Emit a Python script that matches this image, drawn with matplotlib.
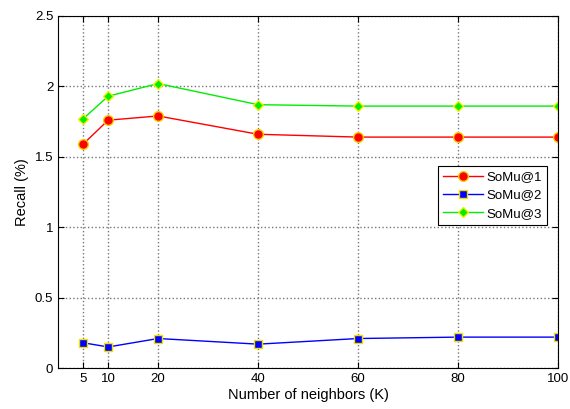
import matplotlib
matplotlib.use("Agg")
import matplotlib.pyplot as plt

plt.rcParams['font.family'] = ['Liberation Sans', 'DejaVu Sans']

k = [5, 10, 20, 40, 60, 80, 100]
somu1 = [1.59, 1.76, 1.79, 1.66, 1.64, 1.64, 1.64]
somu2 = [0.18, 0.15, 0.21, 0.17, 0.21, 0.22, 0.22]
somu3 = [1.77, 1.93, 2.02, 1.87, 1.86, 1.86, 1.86]
yticks = [0, 0.5, 1, 1.5, 2, 2.5]
ytick_labels = ['0', '0.5', '1', '1.5', '2', '2.5']

fig = plt.figure(figsize=(5.7, 4.09), dpi=100)
ax = fig.add_axes([0.102, 0.100, 0.877, 0.861])

ax.plot(k, somu1, '-o', color='red', markerfacecolor='red', markeredgecolor='#f0d000',
        markersize=7, linewidth=1, label='SoMu@1')
ax.plot(k, somu2, '-s', color='blue', markerfacecolor='blue', markeredgecolor='#f0e000',
        markersize=6, linewidth=1, label='SoMu@2')
ax.plot(k, somu3, '-D', color='#00ee00', markerfacecolor='#00ee00', markeredgecolor='#f0f000',
        markersize=5.5, linewidth=1, label='SoMu@3')

ax.set_xlim(0, 100)
ax.set_ylim(0, 2.5)
ax.set_xticks(k)
ax.set_yticks(yticks)
ax.set_yticklabels(ytick_labels)
ax.grid(True, color='#777777', linestyle=':', linewidth=1)
ax.tick_params(direction='in', top=True, right=True, labelsize=9.5, length=4)
for s in ax.spines.values():
    s.set_linewidth(0.8)

ax.set_xlabel('Number of neighbors (K)', fontsize=10.5, labelpad=2)
ax.set_ylabel('Recall (%)', fontsize=10.5)

leg = ax.legend(loc='upper right', bbox_to_anchor=(0.992, 0.593), fontsize=9.5,
                fancybox=False, framealpha=1, edgecolor='black', borderpad=0.4,
                handlelength=3.0, handletextpad=0.3, labelspacing=0.45)
leg.get_frame().set_linewidth(0.8)

fig.savefig('out.png', dpi=100)
